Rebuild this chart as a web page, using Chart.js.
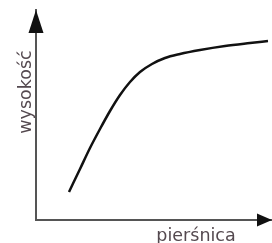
<!DOCTYPE html>
<html>
<head>
<meta charset="utf-8">
<script src="https://cdn.jsdelivr.net/npm/chart.js@4/dist/chart.umd.min.js"></script>
<style>
  html, body { margin: 0; padding: 0; background: #fff; }
  #wrap { width: 272px; height: 243px; }
</style>
</head>
<body>
<div id="wrap"><canvas id="curve"></canvas></div>
<script>
// pierśnica (x) i wysokość (y) w umownych jednostkach
var piersnica = [33, 44, 54, 64, 74, 84, 94, 104, 116, 129, 144, 164, 189, 214, 232];
var wysokosc  = [28, 51, 72, 91, 109, 125, 138, 148, 156, 162, 166, 170, 174, 177, 179];
var xLabel = 'pierśnica';
var yLabel = 'wysokość';

var points = piersnica.map(function (x, i) { return { x: x, y: wysokosc[i] }; });

// strzałki na końcach osi i podpisy osi
var axisDecor = {
  id: 'axisDecor',
  afterDraw: function (chart) {
    var ctx = chart.ctx;
    var a = chart.chartArea;
    ctx.save();
    ctx.fillStyle = '#111';
    // strzałka osi Y
    ctx.beginPath();
    ctx.moveTo(a.left, a.top);
    ctx.lineTo(a.left - 7.5, a.top + 23);
    ctx.lineTo(a.left + 7.5, a.top + 23);
    ctx.closePath();
    ctx.fill();
    // strzałka osi X
    ctx.beginPath();
    ctx.moveTo(a.right, a.bottom);
    ctx.lineTo(a.right - 15, a.bottom - 6.5);
    ctx.lineTo(a.right - 15, a.bottom + 6.5);
    ctx.closePath();
    ctx.fill();

    ctx.fillStyle = '#54494f';
    ctx.font = '17.5px "DejaVu Sans"';
    ctx.textAlign = 'center';
    ctx.textBaseline = 'alphabetic';
    ctx.fillText(xLabel, a.left + 160, a.bottom + 21);

    ctx.translate(a.left - 5, a.top + 82);
    ctx.rotate(-Math.PI / 2);
    ctx.fillText(yLabel, 0, 0);
    ctx.restore();
  }
};

var ctx = document.getElementById('curve');
var chart = new Chart(ctx, {
  type: 'scatter',
  data: {
    datasets: [{
      data: points,
      showLine: true,
      borderColor: '#111',
      borderWidth: 2.5,
      pointRadius: 0,
      cubicInterpolationMode: 'monotone',
      fill: false
    }]
  },
  options: {
    responsive: true,
    maintainAspectRatio: false,
    animation: false,
    layout: { padding: { left: 36, top: 10, right: 0, bottom: 23 } },
    plugins: { legend: { display: false }, tooltip: { enabled: false } },
    scales: {
      x: {
        type: 'linear', min: 0, max: 236,
        grid: { display: false, drawTicks: false },
        ticks: { display: false },
        border: { display: true, color: '#555', width: 2 }
      },
      y: {
        type: 'linear', min: 0, max: 210,
        grid: { display: false, drawTicks: false },
        ticks: { display: false },
        border: { display: true, color: '#555', width: 2 }
      }
    }
  },
  plugins: [axisDecor]
});
</script>
</body>
</html>
